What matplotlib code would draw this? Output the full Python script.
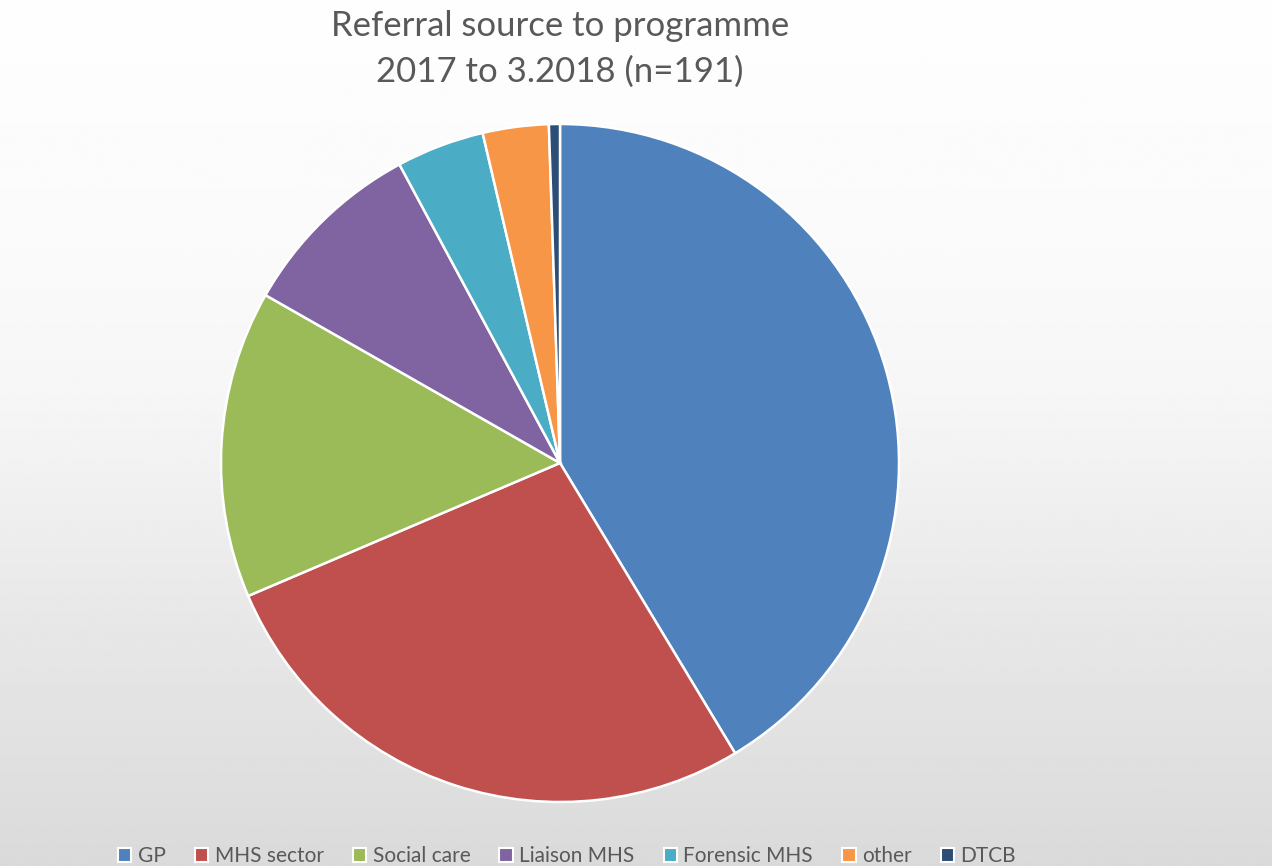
import numpy as np
import matplotlib.pyplot as plt
from matplotlib.patches import Rectangle

labels = ['GP', 'MHS sector', 'Social care', 'Liaison MHS', 'Forensic MHS', 'other', 'DTCB']
counts = [79, 52, 28, 17, 8, 6, 1]
colors = ['#4f81bd', '#c0504d', '#9bbb59', '#8064a2', '#4bacc6', '#f79646', '#2c4d75']

plt.rcParams['font.family'] = ['Lato', 'DejaVu Sans']

fig = plt.figure(figsize=(12.72, 8.66), dpi=100)

# background: near white at the top fading to light grey at the bottom
bg = fig.add_axes([0, 0, 1, 1], zorder=-1)
y = np.linspace(0, 1, 600)
grey = np.interp(y, [0, 0.29, 0.46, 0.69, 1.0], [254, 250, 246, 233, 218]) / 255
bg.imshow(np.repeat(grey[:, None], 2, axis=1), cmap='gray', vmin=0, vmax=1,
          aspect='auto', extent=[0, 1, 1, 0], interpolation='bilinear')
bg.set_axis_off()

cx, cy = 560 / 1272, 1 - 463 / 866
rw, rh = 339 / 1272, 339 / 866
ax = fig.add_axes([cx - rw, cy - rh, 2 * rw, 2 * rh])
ax.pie(counts, colors=colors, startangle=90, counterclock=False, radius=1,
       wedgeprops=dict(edgecolor='white', linewidth=1.8, clip_on=False))
ax.set_xlim(-1, 1)
ax.set_ylim(-1, 1)
ax.set_axis_off()

fig.text(560 / 1272, 1 - 49 / 866, 'Referral source to programme\n2017 to 3.2018 (n=191)',
         ha='center', va='center', fontsize=25, color='#595959', linespacing=1.5)

handles = [Rectangle((0, 0), 1, 1, facecolor=c, edgecolor='white', linewidth=1.5) for c in colors]
fig.legend(handles, labels, loc='center', bbox_to_anchor=(567 / 1272, 1 - 856 / 866),
           ncol=7, frameon=False, fontsize=15, handlelength=0.65, handleheight=0.65,
           handletextpad=0.3, columnspacing=1.4, labelcolor='#595959')

fig.savefig('out.png', dpi=100)
